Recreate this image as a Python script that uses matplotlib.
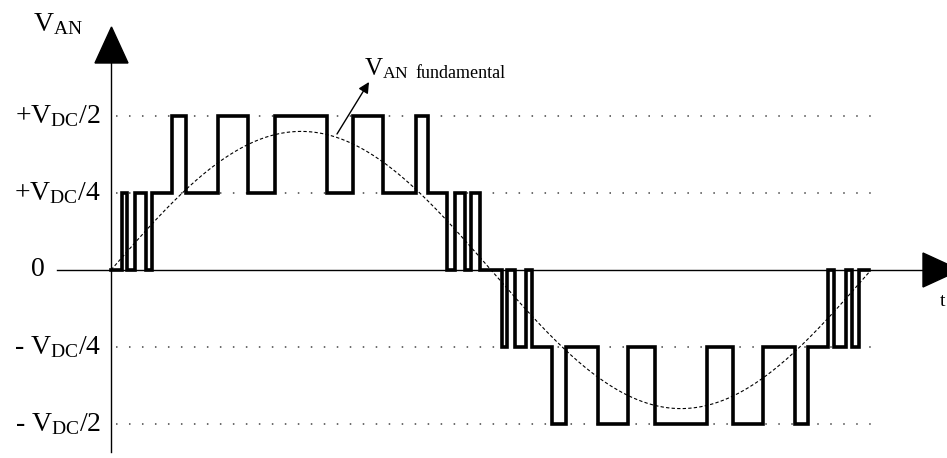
import numpy as np
import matplotlib
matplotlib.use("Agg")
import matplotlib.pyplot as plt
from matplotlib.patches import Polygon

plt.rcParams['mathtext.fontset'] = 'custom'
plt.rcParams['mathtext.rm'] = 'Liberation Serif'
plt.rcParams['mathtext.it'] = 'Liberation Serif:italic'
plt.rcParams['font.family'] = ['Liberation Serif', 'DejaVu Serif']

# ---- data (angle in degrees over one fundamental period, level in units of VDC/4)
switch_angles = [0.0, 5.2, 7.6, 11.4, 16.6, 19.4, 28.9, 35.5, 50.7, 64.9, 77.7,
                 102.3, 114.6, 128.8, 144.5, 150.2, 159.2, 162.9, 167.7, 170.5, 174.8,
                 185.2, 187.6, 191.4, 196.6, 199.4, 208.9, 215.5, 230.7, 244.9, 257.7,
                 282.3, 294.6, 308.8, 324.0, 330.2, 339.6, 342.5, 348.2, 351.0, 354.3]
switch_levels = [0, 1, 0, 1, 0, 1, 2, 1, 2, 1, 2,
                 1, 2, 1, 2, 1, 0, 1, 0, 1, 0,
                 -1, 0, -1, 0, -1, -2, -1, -2, -1, -2,
                 -1, -2, -1, -2, -1, 0, -1, 0, -1, 0]
end_angle = 359.0
fundamental_amplitude = 1.8          # in units of VDC/4
level_values = [2, 1, -1, -2]
level_labels = [r'+$\mathrm{V}_{\mathrm{DC}}$/2', r'+$\mathrm{V}_{\mathrm{DC}}$/4',
                r'- $\mathrm{V}_{\mathrm{DC}}$/4', r'- $\mathrm{V}_{\mathrm{DC}}$/2']
zero_label = '0'

# ---- figure set up: data coords mapped to the canvas
W, H = 947, 458
fig = plt.figure(figsize=(W / 100, H / 100), dpi=100)
ax = fig.add_axes([0, 0, 1, 1])
X0, XSCALE = 111.0, 760.0 / 360.0   # pixel of 0 deg, px per degree
Y0, YSCALE = 270.0, 77.0            # pixel of level 0, px per level
def dx(px): return (px - X0) / XSCALE
def dy(py): return (Y0 - py) / YSCALE
ax.set_xlim(dx(0), dx(W))
ax.set_ylim(dy(H), dy(0))
ax.axis('off')

# dotted level lines
for lv in level_values:
    ax.plot([dx(116), dx(880)], [lv, lv], color='#444444', lw=1.1,
            linestyle=(0, (1, 7.5)))

# axes lines
ax.plot([dx(57), dx(925)], [0, 0], color='black', lw=1.0)
ax.plot([dx(111), dx(111)], [dy(452), dy(60)], color='black', lw=1.0)
ax.add_patch(Polygon([[dx(95), dy(63)], [dx(128), dy(63)], [dx(111.5), dy(27)]],
                     closed=True, color='black'))
ax.add_patch(Polygon([[dx(923), dy(253)], [dx(923), dy(287)], [dx(960), dy(270)]],
                     closed=True, color='black'))

# fundamental
t = np.linspace(0, end_angle, 600)
ax.plot(t, fundamental_amplitude * np.sin(np.radians(t)), color='black', lw=0.8,
        dashes=(3, 2))

# stepped waveform
xs = list(switch_angles) + [end_angle]
ys = list(switch_levels) + [switch_levels[-1]]
ax.step(xs, ys, where='post', color='black', lw=2.6, solid_joinstyle='miter')

# labels
for lv, lab in zip(level_values, level_labels):
    ax.text(dx(101), lv, lab, fontsize=20, ha='right', va='center')
ax.text(dx(38), 0, zero_label, fontsize=20, ha='center', va='center')
ax.text(dx(33), dy(24), r'$\mathrm{V}_{\mathrm{AN}}$', fontsize=20, ha='left', va='center')
ax.text(dx(940), dy(302), 't', fontsize=14, ha='left', va='center')

# annotation
ax.annotate('', xy=(dx(369), dy(82)), xytext=(dx(337), dy(134)),
            arrowprops=dict(arrowstyle='-|>', color='black', lw=1.0,
                            mutation_scale=16, shrinkA=0, shrinkB=0))
ax.text(dx(364), dy(75), r'$\mathrm{V}_{\mathrm{AN}}$', fontsize=18, ha='left', va='baseline')
ax.text(dx(415), dy(78), 'fundamental', fontsize=13, ha='left', va='baseline')

fig.savefig('out.png', dpi=100)
